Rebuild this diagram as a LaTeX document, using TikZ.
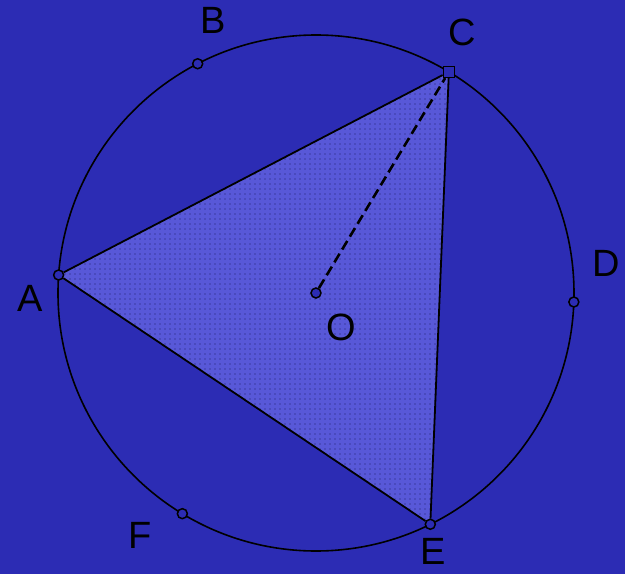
\documentclass[tikz,border=0pt]{standalone}
\usepackage{fontspec}
\setmainfont{Liberation Sans}
\usetikzlibrary{patterns.meta}
\definecolor{SlideBlue}{RGB}{44,44,180}
\definecolor{TriBlue}{RGB}{88,88,216}
\definecolor{DotBlue}{RGB}{28,28,100}

\begin{document}
\begin{tikzpicture}[x=1pt,y=1pt,
    pt/.style={draw=black, fill=SlideBlue, circle, inner sep=0pt, minimum size=10pt, line width=1.5pt},
    ptsq/.style={pt, rectangle, minimum size=11pt},
    lbl/.style={font=\fontsize{38}{40}\selectfont}]
  \fill[SlideBlue] (-316,-281) rectangle (309,293);
  \useasboundingbox (-316,-281) rectangle (309,293);
  % points on the circle
  \coordinate (O) at (0,0);
  \foreach \n/\a in {A/176,B/117.3,C/59,D/-2,E/-63.7,F/-121.2}
    \coordinate (\n) at (\a:258);
  % shaded triangle
  \fill[TriBlue] (A) -- (C) -- (E) -- cycle;
  \fill[pattern={Dots[distance=5pt,radius=0.65pt]}, pattern color=DotBlue] (A) -- (C) -- (E) -- cycle;
  \draw[line width=1.6pt] (O) circle[radius=258];
  \foreach \n in {A,B,D,E,F,O}
    \node[pt] (p\n) at (\n) {};
  \node[ptsq] (pC) at (C) {};
  \draw[line width=1.8pt] (pA) -- (pC) -- (pE) -- (pA);
  \draw[line width=2.6pt, dash pattern=on 10pt off 5pt] (pO) -- (pC);
  % labels
  \node[lbl] (lA) at (-286,-5) {A};
  \node[lbl] (lB) at (-103,273) {B};
  \node[lbl] (lC) at (146,261) {C};
  \node[lbl] (lD) at (290,30) {D};
  \node[lbl] (lE) at (117,-258) {E};
  \node[lbl] (lF) at (-176,-242) {F};
  \node[lbl] (lO) at (25,-34) {O};
\end{tikzpicture}
\end{document}
